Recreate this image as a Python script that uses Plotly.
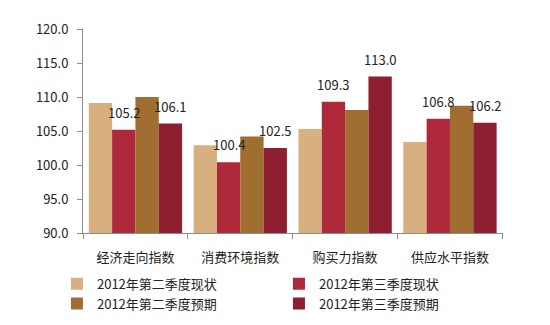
import plotly.graph_objects as go

categories = ["经济走向指数", "消费环境指数", "购买力指数", "供应水平指数"]
series_names = ["2012年第二季度现状", "2012年第三季度现状", "2012年第二季度预期", "2012年第三季度预期"]
q2_now = [109.1, 102.9, 105.3, 103.4]
q3_now = [105.2, 100.4, 109.3, 106.8]
q2_exp = [110.0, 104.2, 108.1, 108.7]
q3_exp = [106.1, 102.5, 113.0, 106.2]
y_ticks = [90, 95, 100, 105, 110, 115, 120]

colors = ["#D8B07F", "#AE2A3B", "#A06E30", "#8E1F30"]
show_labels = [False, True, False, True]
font = "Noto Sans CJK SC, Open Sans, sans-serif"

W, H = 550, 325
ML, MR, MT, MB = 83, 47, 29, 92
BARGAP = 0.11
plot_w = W - ML - MR
cat_w = plot_w / len(categories)
bar_w = cat_w * (1 - BARGAP) / len(series_names)

fig = go.Figure()
annotations = []
all_series = [q2_now, q3_now, q2_exp, q3_exp]
for i, (name, vals, c, lab) in enumerate(zip(series_names, all_series, colors, show_labels)):
    fig.add_trace(go.Bar(
        x=categories, y=vals, name=name, marker=dict(color=c, line=dict(width=0)),
    ))
    if lab:
        for cat, v in zip(categories, vals):
            annotations.append(dict(
                x=cat, y=v, xref="x", yref="y", text=f"{v:.1f}", showarrow=False,
                xanchor="center", yanchor="bottom",
                xshift=(i - (len(series_names) - 1) / 2) * bar_w, yshift=6,
                font=dict(size=13, color="#222222"),
            ))

fig.update_layout(
    width=W, height=H,
    margin=dict(l=ML, r=MR, t=MT, b=MB, autoexpand=False),
    barmode="group", bargap=BARGAP, bargroupgap=0,
    plot_bgcolor="white", paper_bgcolor="white",
    font=dict(family=font, size=13, color="#222222"),
    showlegend=True,
    legend=dict(orientation="h", x=-0.062, y=-0.175, xanchor="left", yanchor="top",
                entrywidth=177, entrywidthmode="pixels", font=dict(size=13),
                itemwidth=30, tracegroupgap=0, bgcolor="rgba(0,0,0,0)"),
    annotations=annotations,
)
fig.update_yaxes(range=[90, 120], tickvals=y_ticks, ticktext=[f"{v:.1f}" for v in y_ticks],
                 showgrid=False, showline=True, linecolor="#8c8c8c", linewidth=1,
                 ticks="outside", ticklen=5, tickcolor="#8c8c8c", zeroline=False,
                 tickfont=dict(size=13), ticklabelstandoff=6)
fig.update_xaxes(showgrid=False, showline=True, linecolor="#8c8c8c", linewidth=1,
                 ticks="outside", ticklen=5, tickcolor="#8c8c8c", tickson="boundaries",
                 tickfont=dict(size=13), ticklabelstandoff=12)

fig.write_html("out.html")
